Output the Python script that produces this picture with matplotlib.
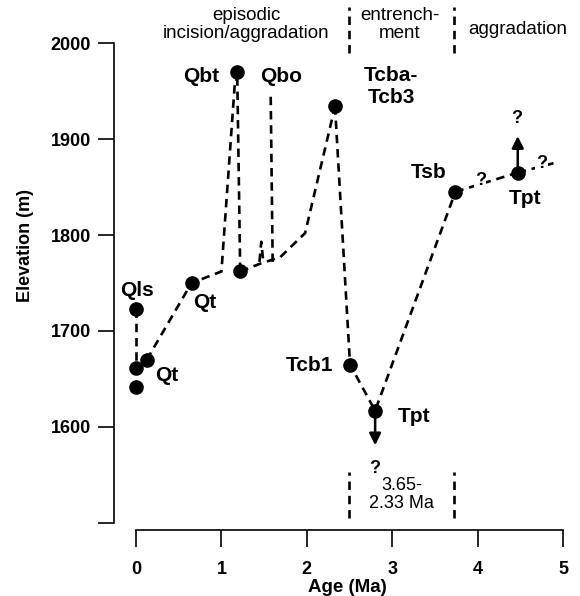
import matplotlib
matplotlib.use("Agg")
import matplotlib.pyplot as plt

plt.rcParams['font.family'] = ['Liberation Sans', 'DejaVu Sans']

# Age (Ma) / elevation (m)
qls_x = [0.0, 0.0]
qls_y = [1723, 1661]

qt_x = [0.125, 0.65, 1.0, 1.16, 1.186, 1.22]
qt_y = [1670, 1750, 1762, 1962, 1962, 1762]

mid_x = [1.22, 1.45, 1.69, 1.98, 2.33]
mid_y = [1762, 1770, 1777, 1802, 1934]

qbo_x = [1.577, 1.60]
qbo_y = [1944, 1772]

spike_x = [1.445, 1.467, 1.49]
spike_y = [1772, 1793, 1772]

tcb_x = [2.33, 2.506, 2.80, 3.74]
tcb_y = [1934, 1665, 1617, 1845]

tsb_x = [3.74, 4.47]
tsb_y = [1845, 1865]

tail_x = [4.47, 4.94]
tail_y = [1865, 1876]

# dots
dot_x = [0.0, 0.0, 0.0, 0.125, 0.65, 1.22, 1.186, 2.33, 2.506, 2.80, 3.74, 4.47]
dot_y = [1723, 1661, 1642, 1670, 1750, 1762, 1970, 1934, 1665, 1617, 1845, 1865]

# point labels: text, x, y, ha
labels = [
    ("Qls", 0.01, 1742, "center"),
    ("Qt", 0.22, 1654, "left"),
    ("Qt", 0.67, 1730, "left"),
    ("Qbt", 0.98, 1965, "right"),
    ("Qbo", 1.45, 1965, "left"),
    ("Tcba-\nTcb3", 2.99, 1955, "center"),
    ("Tcb1", 2.31, 1664, "right"),
    ("Tpt", 3.06, 1611, "left"),
    ("Tsb", 3.43, 1865, "center"),
    ("Tpt", 4.55, 1838, "center"),
]

# period boundaries
bounds_x = [2.49, 3.72]

fig = plt.figure(figsize=(5.8, 5.96), dpi=100)
ax = fig.add_axes([114 / 580, 66 / 596, 466 / 580, 530 / 596])
ax.set_xlim(-0.258, 5.199)
ax.set_ylim(1492.7, 2044.8)

dash = dict(color='black', lw=1.9, dashes=(3.2, 2.2))
for xs, ys in [(qls_x, qls_y), (qt_x, qt_y), (mid_x, mid_y), (qbo_x, qbo_y),
               (spike_x, spike_y), (tcb_x, tcb_y), (tsb_x, tsb_y), (tail_x, tail_y)]:
    ax.plot(xs, ys, **dash)

ax.plot(dot_x, dot_y, 'o', color='black', ms=9.5, zorder=5)

# arrows from the two Tpt points
arr = dict(arrowstyle='-|>,head_length=0.7,head_width=0.35', color='black',
           lw=1.8, shrinkA=0, shrinkB=0, mutation_scale=10)
ax.annotate('', xy=(2.80, 1581), xytext=(2.80, 1617), arrowprops=arr)
ax.annotate('', xy=(4.47, 1903), xytext=(4.47, 1865), arrowprops=arr)

for txt, x, y, ha in labels:
    ax.text(x, y, txt, ha=ha, va='center', fontsize=15, fontweight='bold',
            linespacing=1.2)

wb = dict(facecolor='white', edgecolor='none', pad=0.5)
ax.text(4.46, 1921, "?", ha='center', va='center', fontsize=13, fontweight='bold')
ax.text(4.03, 1857, "?", ha='center', va='center', fontsize=13, fontweight='bold', bbox=wb)
ax.text(4.75, 1874, "?", ha='center', va='center', fontsize=13, fontweight='bold', bbox=wb)
ax.text(2.80, 1557, "?", ha='center', va='center', fontsize=13, fontweight='bold')
ax.text(3.11, 1530, "3.65-\n2.33 Ma", ha='center', va='center', fontsize=13,
        linespacing=1.1)

# period boxes at top and bottom
for bx in bounds_x:
    ax.plot([bx, bx], [1990, 2037], **dash)
    ax.plot([bx, bx], [1505, 1553], **dash)

ax.text(1.29, 2019, "episodic\nincision/aggradation", ha='center', va='center',
        fontsize=13.5, linespacing=1.05)
ax.text(3.09, 2019, "entrench-\nment", ha='center', va='center',
        fontsize=13.5, linespacing=1.05)
ax.text(4.47, 2014, "aggradation", ha='center', va='center', fontsize=13.5)

# axes
for s in ['top', 'right']:
    ax.spines[s].set_visible(False)
ax.spines['left'].set_bounds(1500, 2000)
ax.spines['bottom'].set_bounds(0, 5)
ax.spines['left'].set_linewidth(1.2)
ax.spines['bottom'].set_linewidth(1.2)

ax.set_yticks([1500, 1600, 1700, 1800, 1900, 2000])
ax.set_yticklabels(["", "1600", "1700", "1800", "1900", "2000"])
ax.set_xticks([0, 1, 2, 3, 4, 5])
ax.tick_params(axis='y', direction='out', length=11.5, width=1.2, pad=5, labelsize=13)
ax.tick_params(axis='x', direction='out', length=12, width=1.2, pad=10, labelsize=13)
for t in ax.get_xticklabels() + ax.get_yticklabels():
    t.set_fontweight('bold')

ax.set_xlabel("Age (Ma)", fontsize=13.5, fontweight='bold', labelpad=1)
fig.text(25 / 580, 1 - 245 / 596, "Elevation (m)", rotation=90, ha='center',
         va='center', fontsize=13, fontweight='bold')

fig.savefig("out.png", dpi=100)
